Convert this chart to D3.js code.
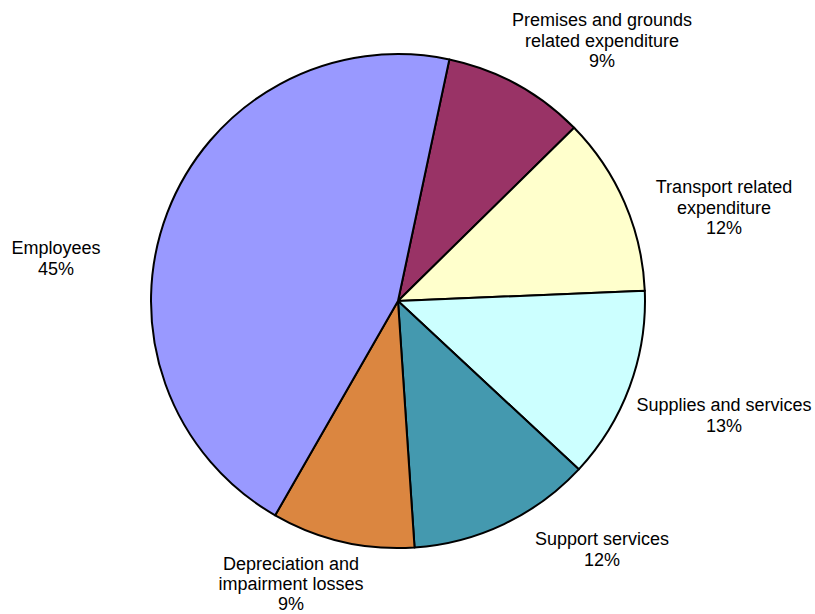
<!DOCTYPE html>
<html>
<head>
<meta charset="utf-8">
<script src="https://cdn.jsdelivr.net/npm/d3@7"></script>
<style>
  html, body { margin: 0; padding: 0; background: #fff; }
  svg { display: block; }
  text { font-family: "Liberation Sans", Arial, sans-serif; font-size: 18px; fill: #000; }
</style>
</head>
<body>
<svg id="chart" width="815" height="614"></svg>
<script>
// Data (clockwise order, starting near 12 o'clock)
const categories = [
  "Premises and grounds related expenditure",
  "Transport related expenditure",
  "Supplies and services",
  "Support services",
  "Depreciation and impairment losses",
  "Employees"
];
const values = [9.3, 11.7, 12.6, 12.0, 9.35, 45.05];
const percentLabels = ["9%", "12%", "13%", "12%", "9%", "45%"];
const labelLines = [
  ["Premises and grounds", "related expenditure"],
  ["Transport related", "expenditure"],
  ["Supplies and services"],
  ["Support services"],
  ["Depreciation and", "impairment losses"],
  ["Employees"]
];
const colors = ["#993366", "#FFFFCC", "#CCFFFF", "#4499AF", "#DB8640", "#9999FF"];

// Layout
const cx = 398, cy = 301, R = 247;
const startDeg = 12;
// label block centres (first-line centre), layout only
const labelPos = [
  [602, 20], [724, 187], [724, 405], [602, 539], [291, 564], [56, 248]
];
const lineH = 20.5;

const svg = d3.select("#chart");
const g = svg.append("g").attr("transform", `translate(${cx},${cy})`);

const start = startDeg * Math.PI / 180;
const pie = d3.pie().sort(null).value(d => d)
  .startAngle(start).endAngle(start + 2 * Math.PI);
const arc = d3.arc().innerRadius(0).outerRadius(R);

g.selectAll("path.slice")
  .data(pie(values))
  .join("path")
  .attr("class", "slice")
  .attr("d", arc)
  .attr("fill", (d, i) => colors[i])
  .attr("stroke", "#000")
  .attr("stroke-width", 2)
  .attr("stroke-linejoin", "round");

const labels = svg.selectAll("text.lbl")
  .data(categories)
  .join("text")
  .attr("class", "lbl")
  .attr("text-anchor", "middle")
  .attr("x", (d, i) => labelPos[i][0])
  .attr("y", (d, i) => labelPos[i][1]);

labels.each(function(d, i) {
  const t = d3.select(this);
  const lines = labelLines[i].concat([percentLabels[i]]);
  const lh = i === 4 ? 20 : lineH;
  lines.forEach((ln, k) => {
    t.append("tspan")
      .attr("x", labelPos[i][0])
      .attr("y", labelPos[i][1] + k * lh)
      .attr("dy", "0.35em")
      .text(ln);
  });
});
</script>
</body>
</html>
